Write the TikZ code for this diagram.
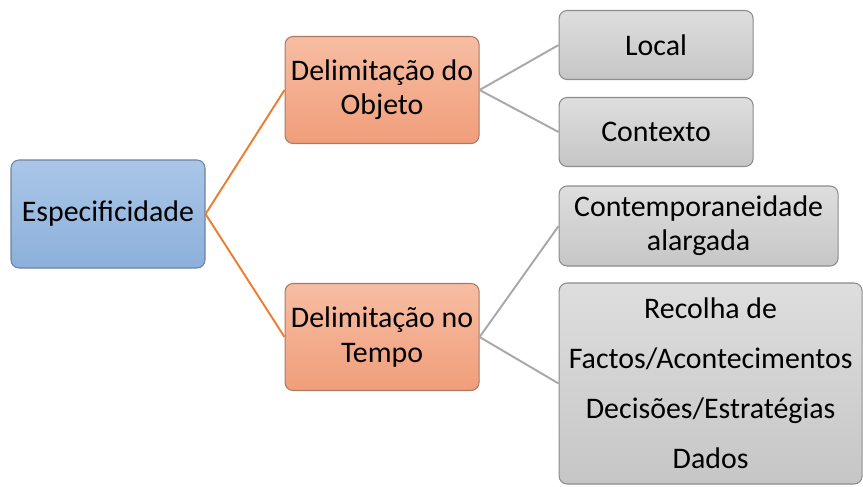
\documentclass[tikz,border=0pt]{standalone}
\usepackage{fontspec}
\setmainfont{Carlito}
\usepackage{tikz}
\usetikzlibrary{positioning, shapes, arrows}

\definecolor{rootTop}{RGB}{170,198,232}
\definecolor{rootBot}{RGB}{140,176,218}
\definecolor{rootLine}{RGB}{110,130,160}
\definecolor{objTop}{RGB}{247,189,163}
\definecolor{objBot}{RGB}{240,158,122}
\definecolor{objLine}{RGB}{170,120,100}
\definecolor{leafTop}{RGB}{222,222,222}
\definecolor{leafBot}{RGB}{198,198,198}
\definecolor{leafLine}{RGB}{140,140,140}
\definecolor{orangeLink}{RGB}{237,125,49}
\definecolor{grayLink}{RGB}{168,168,168}

\begin{document}
\begin{tikzpicture}

        % Define block styles
        \tikzstyle{base} = [rectangle, rounded corners=0.16cm, line width=0.6pt, align=center, font=\fontsize{17}{19.5}\selectfont, inner sep=0pt]
        \tikzstyle{root} = [base, draw=rootLine, top color=rootTop, bottom color=rootBot, minimum width=3.88cm, minimum height=2.16cm]
        \tikzstyle{level} = [base, draw=objLine, top color=objTop, bottom color=objBot, minimum width=3.88cm, minimum height=2.14cm]
        \tikzstyle{leaf} = [base, draw=leafLine, top color=leafTop, bottom color=leafBot, minimum width=3.88cm, minimum height=1.38cm]
        \tikzstyle{orange link} = [draw=orangeLink, line width=1.1pt]
        \tikzstyle{gray link} = [draw=grayLink, line width=1.1pt]

        % Canvas
        \useasboundingbox (0,0) rectangle (17.26,-9.72);
        \clip (0,0) rectangle (17.26,-9.72);

        % Components
        \node (root) [root] at (2.16,-4.28) {Especificidade};
        \node (objeto) [level, right=1.58cm of root.east, yshift=2.48cm] {Delimitação do\\Objeto};
        \node (tempo) [level, right=1.58cm of root.east, yshift=-2.46cm] {Delimitação no\\Tempo};
        \node (local) [leaf, right=1.58cm of objeto.east, yshift=0.9cm] {Local};
        \node (contexto) [leaf, right=1.58cm of objeto.east, yshift=-0.84cm] {Contexto};
        \node (contemp) [leaf, minimum width=5.58cm, minimum height=1.6cm, right=1.58cm of tempo.east, yshift=2.22cm] {Contemporaneidade\\alargada};
        \node (recolha) [leaf, minimum width=6.06cm, minimum height=4.02cm, right=1.58cm of tempo.east, yshift=-0.93cm, font=\fontsize{17}{28.5}\selectfont] {Recolha de\\Factos/Acontecimentos\\Decisões/Estratégias\\Dados};

        % Links
        \draw [orange link] (root.east) -- (objeto.west);
        \draw [orange link] (root.east) -- (tempo.west);
        \draw [gray link] (objeto.east) -- (local.west);
        \draw [gray link] (objeto.east) -- (contexto.west);
        \draw [gray link] (tempo.east) -- (contemp.west);
        \draw [gray link] (tempo.east) -- (recolha.west);

\end{tikzpicture}
\end{document}
